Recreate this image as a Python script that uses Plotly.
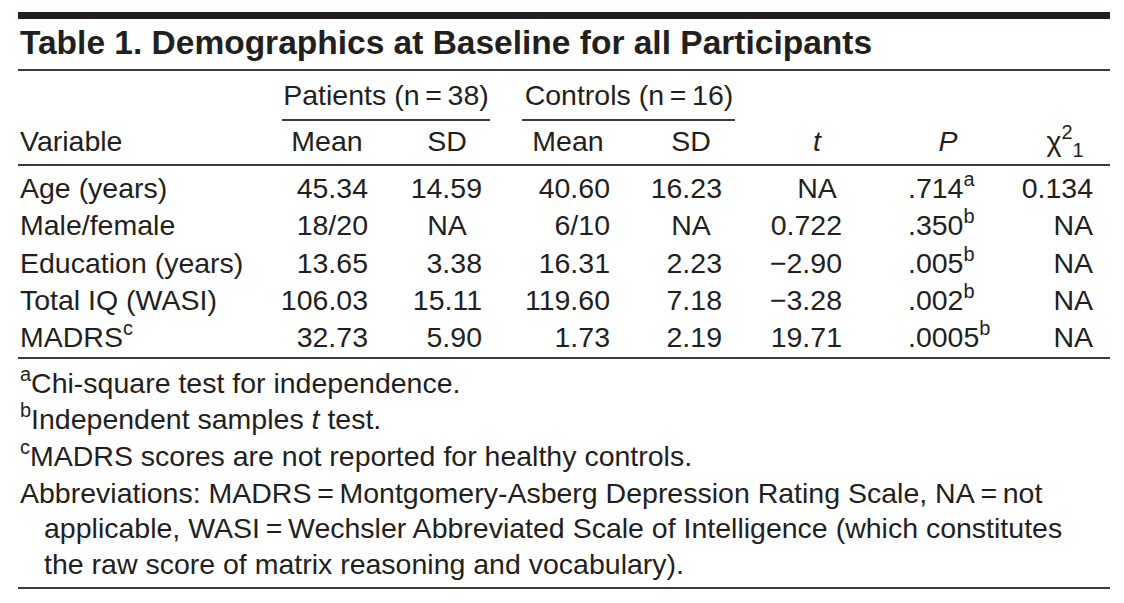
import plotly.graph_objects as go

# ---------------- data ----------------
title = "Table 1. Demographics at Baseline for all Participants"
group_labels = ["Patients (n\u2009=\u200938)", "Controls (n\u2009=\u200916)"]
col_headers = ["Variable", "Mean", "SD", "Mean", "SD", "<i>t</i>", "<i>P</i>", "\u03c7<sup>2</sup><sub>1</sub>"]
variables = ["Age (years)", "Male/female", "Education (years)", "Total IQ (WASI)", "MADRS<sup>c</sup>"]
patients_mean = ["45.34", "18/20", "13.65", "106.03", "32.73"]
patients_sd = ["14.59", "NA", "3.38", "15.11", "5.90"]
controls_mean = ["40.60", "6/10", "16.31", "119.60", "1.73"]
controls_sd = ["16.23", "NA", "2.23", "7.18", "2.19"]
t_values = ["NA", "0.722", "\u22122.90", "\u22123.28", "19.71"]
p_values = [".714<sup>a</sup>", ".350<sup>b</sup>", ".005<sup>b</sup>", ".002<sup>b</sup>", ".0005<sup>b</sup>"]
chi2_values = ["0.134", "NA", "NA", "NA", "NA"]
footnotes = [
    "<sup>a</sup>Chi-square test for independence.",
    "<sup>b</sup>Independent samples <i>t</i> test.",
    "<sup>c</sup>MADRS scores are not reported for healthy controls.",
    "Abbreviations: MADRS\u2009=\u2009Montgomery-Asberg Depression Rating Scale, NA\u2009=\u2009not",
    "applicable, WASI\u2009=\u2009Wechsler Abbreviated Scale of Intelligence (which constitutes",
    "the raw score of matrix reasoning and vocabulary).",
]

# ---------------- layout constants ----------------
W, H = 1124, 603
FONT = "Liberation Sans, Arial, sans-serif"
FS = 28.5
INK = "#231f20"
LEFT, RIGHT = 18, 1110
TEXT_LEFT = 20

# columns: (anchor x for numbers, alignment, centre x for NA / header)
columns = [
    (368, "right", 327),
    (482, "right", 447),
    (610, "right", 568),
    (722, "right", 691),
    (842, "right", 817),
    (908, "left", 948),
    (1093, "right", 1065),
]
row_y0, row_h = 191, 37.3
header1_y, header2_y = 98, 144
title_y = 46
foot_y = [386, 422, 459, 496, 531, 567]
foot_x = [TEXT_LEFT, TEXT_LEFT, TEXT_LEFT, TEXT_LEFT, 44, 44]

fig = go.Figure()


def add_text(xs, ys, texts, positions, size=FS, bold=False):
    fig.add_trace(go.Scatter(
        x=xs, y=ys, text=texts, mode="text",
        textposition=positions,
        textfont=dict(family=FONT, size=size, color=INK,
                      weight="bold" if bold else "normal"),
        hoverinfo="skip", showlegend=False, cliponaxis=False,
    ))


row_ys = [row_y0 + i * row_h for i in range(len(variables))]

# title
add_text([TEXT_LEFT], [title_y], [title], ["middle right"], size=33.5, bold=True)

# group labels
add_text([386, 629], [header1_y, header1_y], group_labels, ["middle center", "middle center"])

# column headers
hx = [TEXT_LEFT] + [c[2] for c in columns]
hpos = ["middle right"] + ["middle center"] * len(columns)
add_text(hx, [header2_y] * len(hx), col_headers, hpos)

# variable names
add_text([TEXT_LEFT] * len(variables), row_ys, variables, ["middle right"] * len(variables))

# numeric columns
series = [patients_mean, patients_sd, controls_mean, controls_sd, t_values, p_values, chi2_values]
for (anchor, align, centre), vals in zip(columns, series):
    xs, pos = [], []
    for v in vals:
        if v == "NA" and align == "right" and anchor != 1093:
            xs.append(centre)
            pos.append("middle center")
        else:
            xs.append(anchor)
            pos.append("middle left" if align == "right" else "middle right")
    add_text(xs, row_ys, vals, pos)

# footnotes
add_text(foot_x, foot_y, footnotes, ["middle right"] * len(footnotes))

# rules
line_col = "#3c3c3c"
shapes = [
    dict(type="rect", x0=LEFT, x1=RIGHT, y0=12, y1=19, fillcolor=INK, line=dict(width=0)),
    dict(type="line", x0=LEFT, x1=RIGHT, y0=70, y1=70, line=dict(color=line_col, width=2)),
    dict(type="line", x0=282, x1=490, y0=120, y1=120, line=dict(color=line_col, width=2)),
    dict(type="line", x0=522, x1=735, y0=120, y1=120, line=dict(color=line_col, width=2)),
    dict(type="line", x0=LEFT, x1=RIGHT, y0=165, y1=165, line=dict(color=line_col, width=2)),
    dict(type="line", x0=LEFT, x1=RIGHT, y0=358, y1=358, line=dict(color=line_col, width=2)),
    dict(type="line", x0=LEFT, x1=RIGHT, y0=588, y1=588, line=dict(color=line_col, width=2)),
]
for s in shapes:
    s.update(xref="x", yref="y", layer="above")

fig.update_layout(
    width=W, height=H,
    margin=dict(l=0, r=0, t=0, b=0),
    paper_bgcolor="white", plot_bgcolor="white",
    xaxis=dict(range=[0, W], visible=False, fixedrange=True),
    yaxis=dict(range=[H, 0], visible=False, fixedrange=True),
    shapes=shapes,
    showlegend=False,
)

fig.write_html(
    "out.html",
    config={"displayModeBar": False},
    post_script="document.body.style.margin='0px';document.body.style.overflow='hidden';",
)
